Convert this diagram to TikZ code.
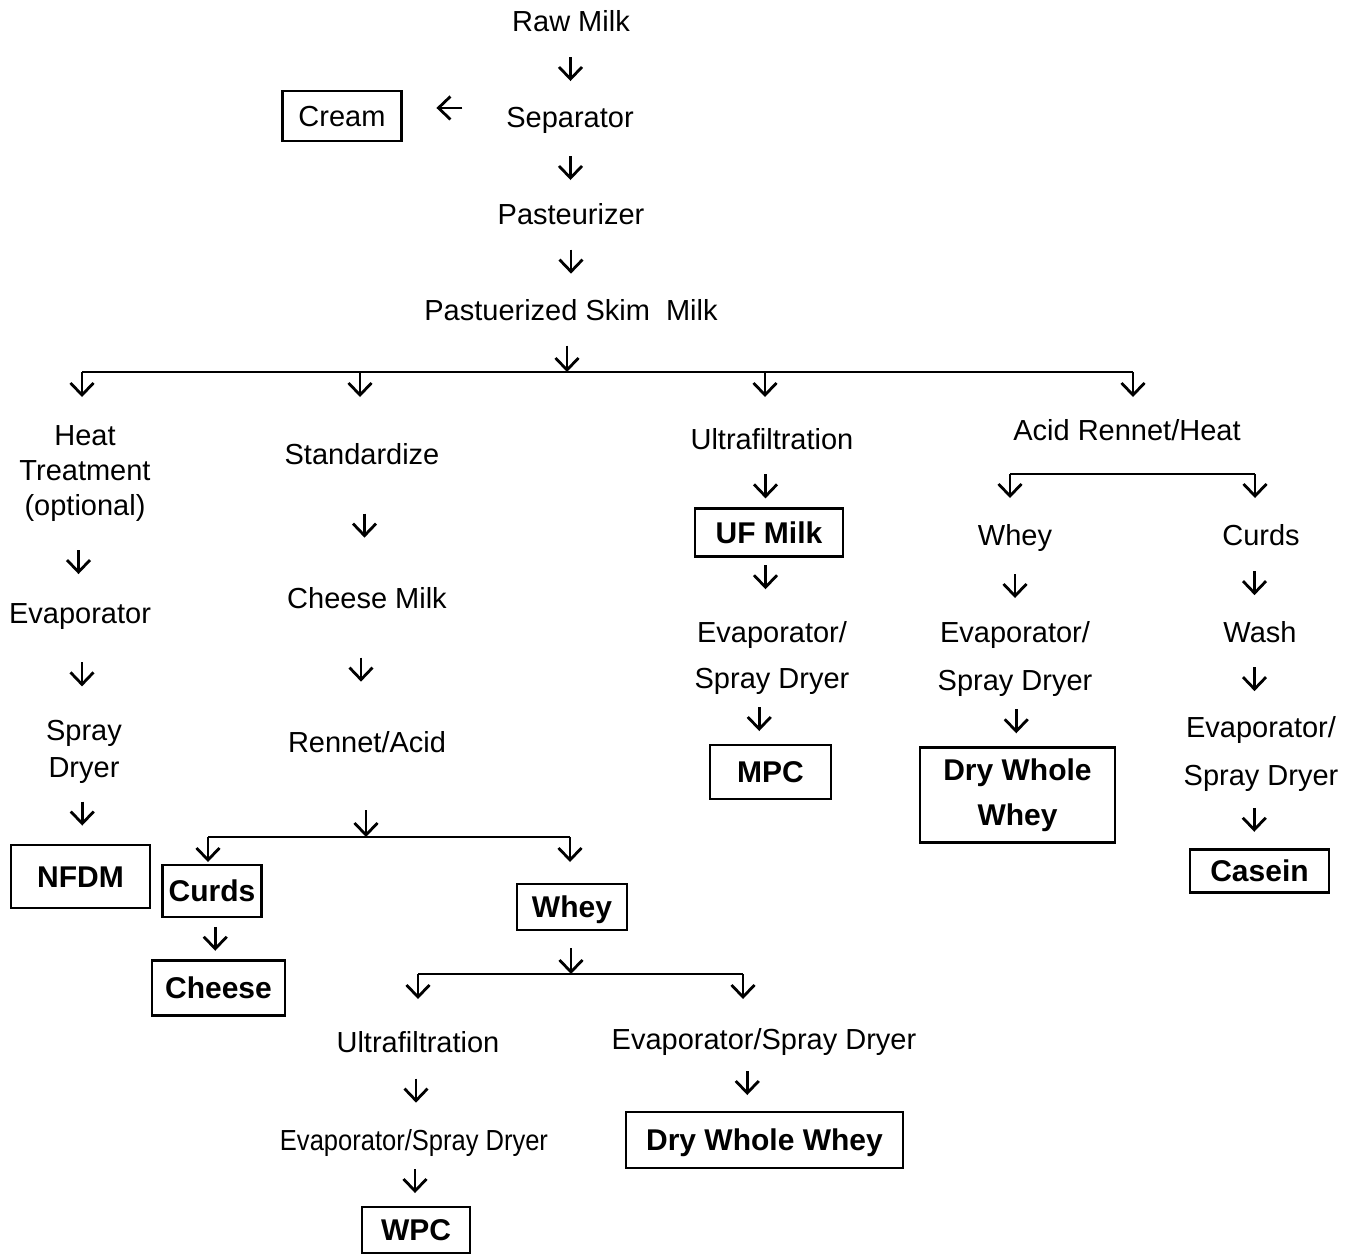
\documentclass[tikz,border=0pt]{standalone}
\usepackage{fontspec}
\usepackage{graphicx}
\setmainfont{Liberation Sans}
\usetikzlibrary{arrows.meta,calc}

\tikzset{
  flow/.style={-{Straight Barb[length=6pt,width=11.5pt]}, line width=1.4pt},
  bar/.style={line width=1.4pt},
  stage/.style={inner sep=0pt, anchor=base, align=center, font=\fontsize{14.5}{17.5}\selectfont},
  box/.style={draw, line width=1.4pt, inner sep=0pt, font=\bfseries\fontsize{15}{22.5}\selectfont},
  product/.style={box, text height=10.7pt, text depth=0pt}
}

% short arrow half way between two nodes, optional offset
\newcommand{\flowto}[3][(0,0)]{%
  \draw[flow] ($(#2.south)!.5!(#3.north)+#1+(0,-12)$) -- ($(#2.south)!.5!(#3.north)+#1+(0,12)$);}

\begin{document}
\begin{tikzpicture}[x=0.5pt, y=-0.5pt]
  \useasboundingbox (0,0) rectangle (1356,1255);

  % main line
  \node[stage] (raw) at (571,31) {Raw Milk};
  \node[stage] (sep) at (570,127) {Separator};
  \node[product, font=\fontsize{14.5}{17.5}\selectfont, text height=10.4pt,
        minimum width=59.5pt, minimum height=25pt] (cream) at (342,116) {Cream};
  \node[stage] (past) at (571,224) {Pasteurizer};
  \node[stage] (psm) at (571,320) {Pastuerized Skim~ Milk};

  % column 1 (multi-line nodes sit on their last baseline)
  \node[stage] (heat) at (85,515) {Heat\\Treatment\\(optional)};
  \node[stage] (evap1) at (80,623) {Evaporator};
  \node[stage, font=\fontsize{14.5}{18.5}\selectfont] (spray1) at (84,777) {Spray\\Dryer};
  \node[product, minimum width=69.5pt, minimum height=31.5pt] (nfdm) at (80.5,876.5) {NFDM};

  % column 2
  \node[stage] (std) at (362,464) {Standardize};
  \node[stage] (cmilk) at (367,608) {Cheese Milk};
  \node[stage] (rennet) at (367,752) {Rennet/Acid};
  \node[product, minimum width=49.5pt, minimum height=26pt] (curds) at (212,891) {Curds};
  \node[product, minimum width=66.5pt, minimum height=27.5pt] (cheese) at (218.5,988) {Cheese};
  \node[product, minimum width=55pt, minimum height=23pt] (whey) at (572,907) {Whey};
  \node[stage] (ultra2) at (418,1052) {Ultrafiltration};
  \node[stage] (evsp2) at (414,1150) {\scalebox{0.88}[1]{Evaporator/Spray Dryer}};
  \node[product, minimum width=54pt, minimum height=23pt] (wpc) at (416,1230) {WPC};
  \node[stage] (evsp3) at (764,1049) {Evaporator/Spray Dryer};
  \node[product, minimum width=138.5pt, minimum height=28pt] (dww2) at (764.5,1140) {Dry Whole Whey};

  % column 3
  \node[stage] (ultra3) at (772,449) {Ultrafiltration};
  \node[product, minimum width=74pt, minimum height=24pt] (ufmilk) at (769,532.5) {UF Milk};
  \node[stage, font=\fontsize{14.5}{23}\selectfont] (evsp4) at (772,688) {Evaporator/\\Spray Dryer};
  \node[product, minimum width=60.5pt, minimum height=27pt] (mpc) at (770.5,772) {MPC};

  % column 4
  \node[stage] (acid) at (1127,440) {Acid Rennet/Heat};
  \node[stage] (whey4) at (1015,545) {Whey};
  \node[stage] (curds4) at (1261,545) {Curds};
  \node[stage, font=\fontsize{14.5}{24}\selectfont] (evsp5) at (1015,690) {Evaporator/\\Spray Dryer};
  \node[box, align=center, minimum width=97.5pt, minimum height=47.5pt] (dww1) at (1017.5,795) {Dry Whole\\Whey};
  \node[stage] (wash) at (1260,642) {Wash};
  \node[stage, font=\fontsize{14.5}{24}\selectfont] (evsp6) at (1261,785) {Evaporator/\\Spray Dryer};
  \node[product, minimum width=69.5pt, minimum height=21.5pt] (casein) at (1259.5,871) {Casein};

  % arrows between stages
  \flowto{raw}{sep}
  \flowto{sep}{past}
  \flowto{past}{psm}
  \draw[flow] ($(sep.west)!.5!(cream.east)+(8,-10)$) -- ($(sep.west)!.5!(cream.east)+(-18,-10)$);
  \flowto[(-4,0)]{heat}{evap1}
  \flowto{evap1}{spray1}
  \flowto{spray1}{nfdm}
  \flowto{std}{cmilk}
  \flowto[(-6,0)]{cmilk}{rennet}
  \flowto{curds}{cheese}
  \flowto{ultra2}{evsp2}
  \flowto{evsp2}{wpc}
  \flowto[(-17,0)]{evsp3}{dww2}
  \flowto[(-5,8)]{ultra3}{ufmilk}
  \flowto[(-5,-12)]{ufmilk}{evsp4}
  \flowto[(-12,0)]{evsp4}{mpc}
  \flowto{whey4}{evsp5}
  \flowto{evsp5}{dww1}
  \flowto[(-6,0)]{curds4}{wash}
  \flowto[(-6,0)]{wash}{evsp6}
  \flowto[(-6,0)]{evsp6}{casein}

  % splits
  \coordinate (split1) at (567,372);
  \coordinate (split2) at (366,837);
  \coordinate (split3) at (571,974);
  \draw[flow] (psm.south -| split1) ++(0,25) -- (split1);
  \draw[bar] (82,372) -- (1133,372);
  \foreach \x in {82,360,765,1133}
    \draw[flow] (\x,372) -- ++(0,25);

  \draw[flow] (split2) ++(0,-27) -- (split2);
  \draw[bar] (208,837) -- (570,837);
  \foreach \x in {208,570}
    \draw[flow] (\x,837) -- ++(0,25);

  \draw[flow] (whey.south -| split3) ++(0,17) -- (split3);
  \draw[bar] (418,974) -- (743,974);
  \foreach \x in {418,743}
    \draw[flow] (\x,974) -- ++(0,25);

  \draw[bar] (1010,474) -- (1255,474);
  \foreach \x in {1010,1255}
    \draw[flow] (\x,474) -- ++(0,24);
\end{tikzpicture}
\end{document}
